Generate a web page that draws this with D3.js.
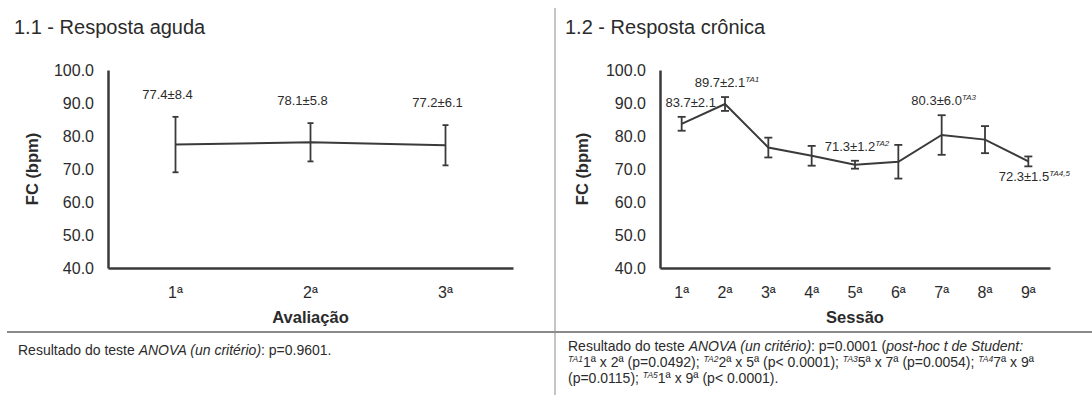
<!DOCTYPE html>
<html>
<head>
<meta charset="utf-8">
<script src="https://cdn.jsdelivr.net/npm/d3@7"></script>
<style>
  body { margin: 0; background: #fff; }
  text { font-family: "Liberation Sans", Arial, sans-serif; fill: #2b2b2b; }
</style>
</head>
<body>
<div id="chart"></div>
<script>
// Data
const acuteCats = ["1ª", "2ª", "3ª"];
const acuteMean = [77.4, 78.1, 77.2];
const acuteSd = [8.4, 5.8, 6.1];

const chronicCats = ["1ª", "2ª", "3ª", "4ª", "5ª", "6ª", "7ª", "8ª", "9ª"];
const chronicMean = [83.7, 89.7, 76.5, 74.0, 71.3, 72.2, 80.3, 78.9, 72.3];
const chronicSd = [2.1, 2.1, 3.0, 3.0, 1.2, 5.1, 6.0, 4.1, 1.5];
const chronicMarks = ["", "TA1", "", "", "TA2", "", "TA3", "", "TA4,5"];
// which points carry a value label, and where
const chronicLabelPos = ["aboveRight", "above", null, null, "above", null, "above", null, "below"];
const acuteLabelPos = ["high", "high", "high"];

const yTicks = [40, 50, 60, 70, 80, 90, 100];

const W = 1092, H = 395;
const svg = d3.select("#chart").append("svg")
    .attr("width", W)
    .attr("height", H);

// panel separators
svg.append("line")
    .attr("x1", 555).attr("x2", 555)
    .attr("y1", 8).attr("y2", H)
    .attr("stroke", "#c4c4c4").attr("stroke-width", 2);
svg.append("line")
    .attr("x1", 7).attr("x2", W)
    .attr("y1", 332).attr("y2", 332)
    .attr("stroke", "#8a8a8a").attr("stroke-width", 2);

function drawPanel(p) {
    const g = svg.append("g");

    g.append("text")
        .attr("x", p.titleX)
        .attr("y", 34)
        .attr("font-size", "20px")
        .text(p.title);

    const x = d3.scaleBand()
        .domain(p.cats)
        .range([p.x0, p.x1])
        .padding(0);

    const y = d3.scaleLinear()
        .domain([40, 100])
        .range([268, 70]);

    const yAxis = g.append("g")
        .attr("transform", "translate(" + p.x0 + ",0)")
        .call(d3.axisLeft(y).tickValues(yTicks).tickFormat(d3.format(".1f"))
            .tickSizeInner(0).tickSizeOuter(0).tickPadding(14));
    yAxis.selectAll("text")
        .attr("font-size", "16px")
        .attr("font-family", "Liberation Sans, Arial, sans-serif")
        .attr("fill", "#2b2b2b");
    yAxis.select(".domain").attr("stroke", "#3a3a3a").attr("stroke-width", 2.5);

    const xAxis = g.append("g")
        .attr("transform", "translate(0,268)")
        .call(d3.axisBottom(x).tickSizeInner(0).tickSizeOuter(0).tickPadding(19));
    xAxis.selectAll("text")
        .attr("font-size", "16px")
        .attr("font-family", "Liberation Sans, Arial, sans-serif")
        .attr("fill", "#2b2b2b");
    xAxis.select(".domain").attr("stroke", "#3a3a3a").attr("stroke-width", 2.5);

    // axis titles
    g.append("text")
        .attr("x", (p.x0 + p.x1) / 2)
        .attr("y", 323)
        .attr("text-anchor", "middle")
        .attr("font-size", "16.5px")
        .attr("font-weight", "bold")
        .text(p.xTitle);

    g.append("text")
        .attr("transform", "translate(" + p.yTitleX + "," + 169 + ") rotate(-90)")
        .attr("text-anchor", "middle")
        .attr("font-size", "16.5px")
        .attr("font-weight", "bold")
        .text("FC (bpm)");

    const data = p.cats.map((c, i) => ({
        cat: c, mean: p.mean[i], sd: p.sd[i],
        mark: p.marks ? p.marks[i] : "", pos: p.labelPos[i]
    }));
    const cx = d => x(d.cat) + x.bandwidth() / 2;

    // line
    const line = d3.line()
        .x(cx)
        .y(d => y(d.mean));
    g.append("path")
        .datum(data)
        .attr("fill", "none")
        .attr("stroke", "#3a3a3a")
        .attr("stroke-width", 2)
        .attr("d", line);

    // error bars
    const eb = g.selectAll(".eb")
        .data(data)
      .enter().append("g")
        .attr("class", "eb")
        .attr("stroke", "#3a3a3a")
        .attr("stroke-width", 1.8);
    eb.append("line")
        .attr("x1", cx).attr("x2", cx)
        .attr("y1", d => y(d.mean + d.sd))
        .attr("y2", d => y(d.mean - d.sd));
    eb.append("line")
        .attr("x1", d => cx(d) - p.cap).attr("x2", d => cx(d) + p.cap)
        .attr("y1", d => y(d.mean + d.sd)).attr("y2", d => y(d.mean + d.sd));
    eb.append("line")
        .attr("x1", d => cx(d) - p.cap).attr("x2", d => cx(d) + p.cap)
        .attr("y1", d => y(d.mean - d.sd)).attr("y2", d => y(d.mean - d.sd));

    // value labels
    const shiftX = { high: -8, aboveRight: 9, above: 2, below: 6 };
    const lab = g.selectAll(".vlab")
        .data(data.filter(d => d.pos))
      .enter().append("text")
        .attr("class", "vlab")
        .attr("text-anchor", "middle")
        .attr("font-size", "13px")
        .attr("x", d => cx(d) + shiftX[d.pos])
        .attr("y", d => {
            if (d.pos === "high") return y(d.mean + d.sd) - 18;
            if (d.pos === "below") return y(d.mean - d.sd) + 15;
            return y(d.mean + d.sd) - 10;
        });
    lab.append("tspan").text(d => d.mean.toFixed(1) + "±" + d.sd.toFixed(1));
    lab.filter(d => d.mark).append("tspan")
        .attr("dy", -5)
        .attr("font-size", "8px")
        .attr("font-style", "italic")
        .text(d => d.mark);
}

drawPanel({
    title: "1.1 - Resposta aguda", titleX: 14,
    cats: acuteCats, mean: acuteMean, sd: acuteSd, labelPos: acuteLabelPos,
    x0: 108, x1: 513, yTitleX: 38, xTitle: "Avaliação", cap: 3
});

drawPanel({
    title: "1.2 - Resposta crônica", titleX: 565,
    cats: chronicCats, mean: chronicMean, sd: chronicSd, marks: chronicMarks,
    labelPos: chronicLabelPos,
    x0: 660, x1: 1050, yTitleX: 588, xTitle: "Sessão", cap: 4
});

// footnotes
function footLine(xp, yp, parts) {
    const t = svg.append("text")
        .attr("x", xp).attr("y", yp)
        .attr("font-size", "14px");
    parts.forEach(pt => {
        const s = t.append("tspan").text(pt.t);
        if (pt.i) s.attr("font-style", "italic");
        if (pt.sup) {
            s.attr("font-size", "8.5px").attr("font-style", "italic").attr("dy", -5);
        }
        if (pt.after) s.attr("dy", 5);
    });
}

footLine(18, 355, [
    { t: "Resultado do teste " }, { t: "ANOVA (un critério)", i: true }, { t: ": p=0.9601." }
]);

footLine(568, 351, [
    { t: "Resultado do teste " }, { t: "ANOVA (un critério)", i: true },
    { t: ": p=0.0001 (" }, { t: "post-hoc t de Student:", i: true }
]);
footLine(568, 367, [
    { t: "TA1", sup: true }, { t: "1ª x 2ª (p=0.0492); ", after: true },
    { t: "TA2", sup: true }, { t: "2ª x 5ª (p< 0.0001); ", after: true },
    { t: "TA3", sup: true }, { t: "5ª x 7ª (p=0.0054); ", after: true },
    { t: "TA4", sup: true }, { t: "7ª x 9ª", after: true }
]);
footLine(568, 383, [
    { t: "(p=0.0115); " },
    { t: "TA5", sup: true }, { t: "1ª x 9ª (p< 0.0001).", after: true }
]);
</script>
</body>
</html>
